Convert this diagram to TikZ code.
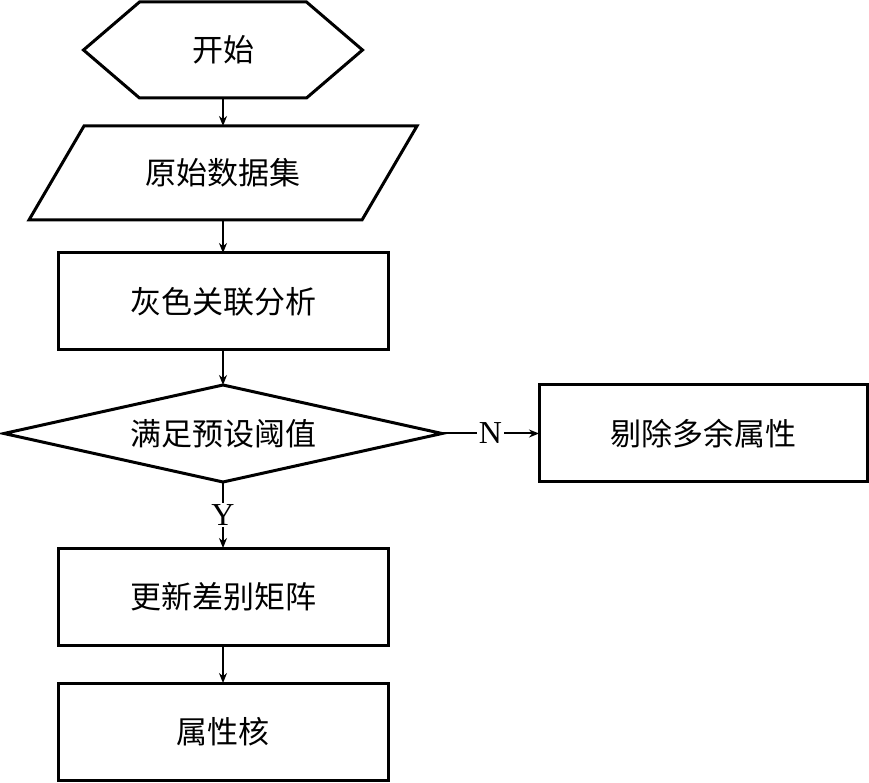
\documentclass[tikz,border=0pt]{standalone}
\usepackage{fontspec}
\setmainfont{Liberation Serif}
\newfontfamily\cjk{Noto Sans CJK SC}
\usepackage{tikz}
\usetikzlibrary{arrows.meta, shapes.geometric, positioning, calc}
\tikzset{
  flowline/.style={line width=3pt, line join=miter},
  flowarrow/.style={-{Stealth[length=10pt,width=8pt]}, line width=2pt},
  termnode/.style={
    rectangle, draw=none, outer sep=0pt,
    minimum width=167pt, minimum height=96pt,
    text centered, font=\cjk\fontsize{31}{36}\selectfont
  },
  datanode/.style={
    rectangle, draw=none, outer sep=0pt,
    minimum width=333pt, minimum height=94pt,
    text centered, font=\cjk\fontsize{31}{36}\selectfont
  },
  procbox/.style={
    rectangle, flowline, draw=black, outer sep=0pt,
    minimum width=330pt, minimum height=97pt,
    text centered, font=\cjk\fontsize{31}{36}\selectfont
  },
  decnode/.style={
    diamond, flowline, draw=black, aspect=4.5, inner sep=0pt, outer sep=0pt,
    minimum width=438pt, minimum height=97pt,
    text centered, font=\cjk\fontsize{31}{36}\selectfont
  },
  yesno/.style={fill=white, inner sep=2pt, font=\fontsize{32}{34}\selectfont},
}

\begin{document}
\begin{tikzpicture}[x=1pt, y=1pt]
  \useasboundingbox (0,0) rectangle (869,782);
  \node[termnode] (start) at (223,732) {开始};
  \draw[flowline] (start.north west) -- (start.north east)
     -- ([xshift=56pt]start.east) -- (start.south east)
     -- (start.south west) -- ([xshift=-56pt]start.west) -- cycle;
  \node[datanode, below=28pt of start] (data) {原始数据集};
  \draw[flowline] ([xshift=27.5pt]data.north west) -- ([xshift=27.5pt]data.north east)
     -- ([xshift=-27.5pt]data.south east) -- ([xshift=-27.5pt]data.south west) -- cycle;
  \node[procbox, below=33pt of data] (grey) {灰色关联分析};
  \node[decnode, below=35pt of grey] (check) {满足预设阈值};
  \node[procbox, right=97pt of check, minimum width=328pt] (drop) {剔除多余属性};
  \node[procbox, below=66pt of check] (update) {更新差别矩阵};
  \node[procbox, below=38pt of update] (core) {属性核};
  \draw[flowarrow] (start.south) -- (data.north);
  \draw[flowarrow] (data.south) -- (grey.north);
  \draw[flowarrow] (grey.south) -- (check.north);
  \draw[flowarrow] (check.east) -- node[yesno] {N} (drop.west);
  \draw[flowarrow] (check.south) -- node[yesno] {Y} (update.north);
  \draw[flowarrow] (update.south) -- (core.north);
\end{tikzpicture}
\end{document}
